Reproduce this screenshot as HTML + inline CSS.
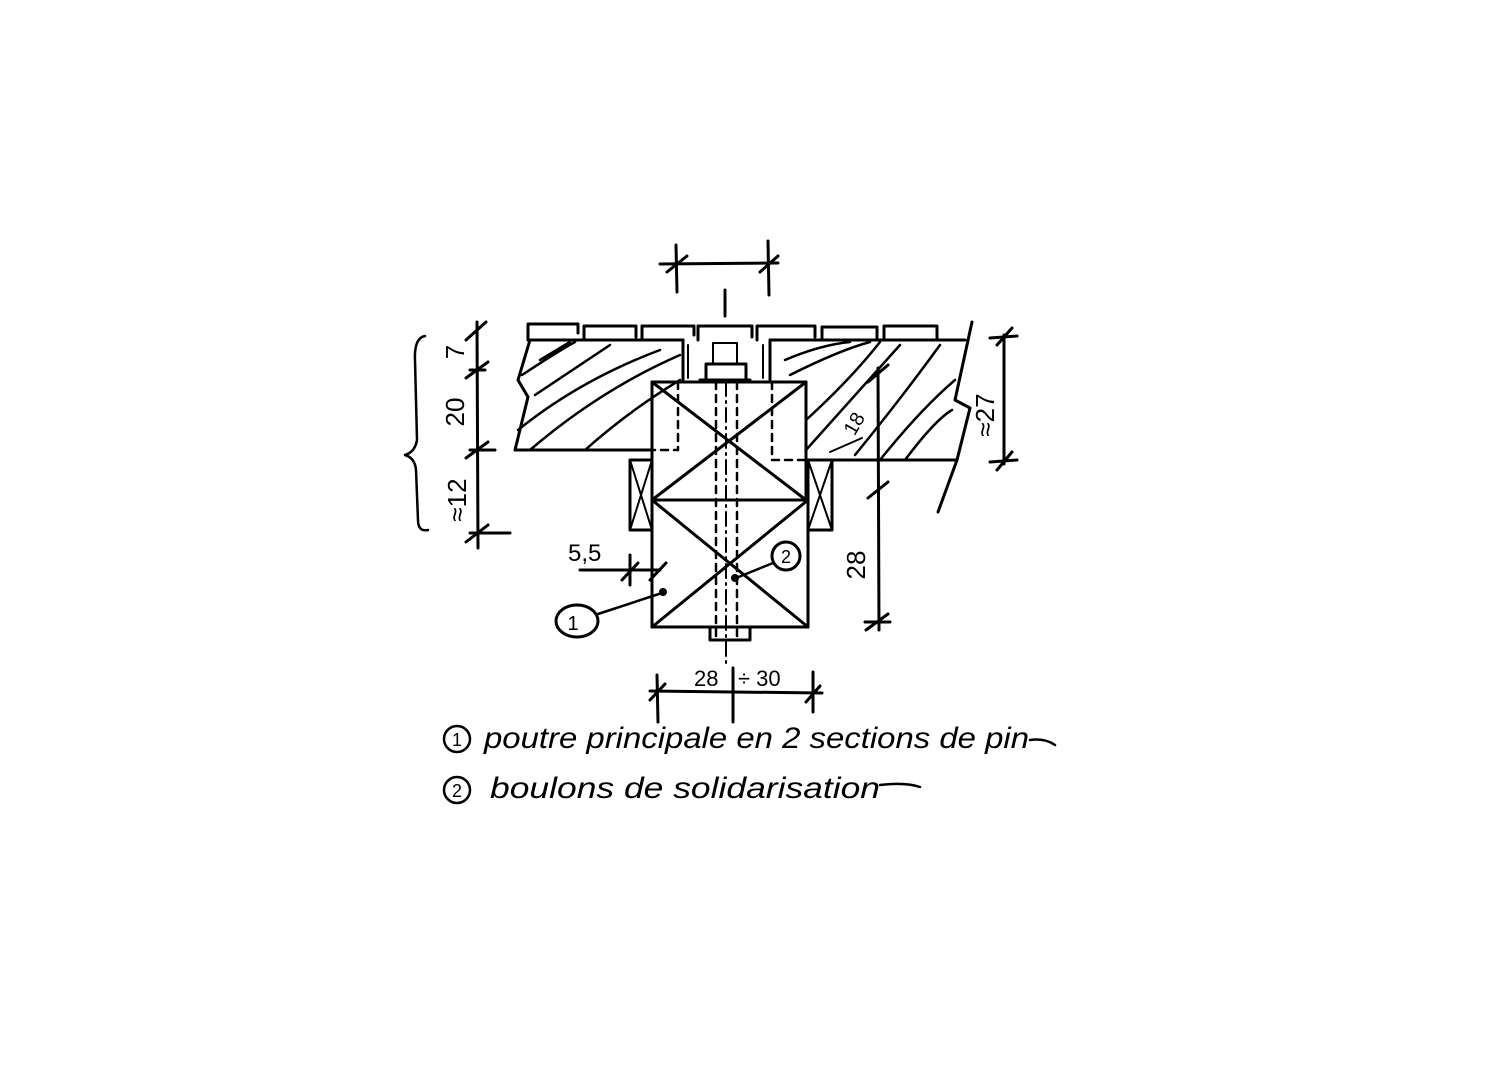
<!DOCTYPE html>
<html><head><meta charset="utf-8"><style>
html,body{margin:0;padding:0;background:#fff;}
svg{display:block}
text{font-family:"Liberation Sans",sans-serif;fill:#000}
</style></head><body>
<svg width="1500" height="1067" viewBox="0 0 1500 1067" xmlns="http://www.w3.org/2000/svg">
<g stroke="#000" stroke-width="3" fill="none" stroke-linecap="round" stroke-linejoin="round">
<!-- top dimension -->
<line x1="660" y1="264" x2="778" y2="263"/>
<line x1="676" y1="245" x2="677" y2="292"/>
<line x1="768" y1="241" x2="769" y2="295"/>
<line x1="667" y1="272" x2="687" y2="256"/>
<line x1="760" y1="272" x2="778" y2="256"/>
<line x1="725" y1="290" x2="725" y2="316"/>
<!-- planks -->
<path d="M528 340 V324 H578 V333 M584 340 V326 H636 V337 M642 340 V326 H694 V335 M698 340 V326 H752 V337 M757 340 V326 H815 V337 M822 340 V327 H877 V338 M884 340 V326 H937 V338"/>
<!-- deck slab -->
<path d="M528 340 H683 M770 340 H965"/>
<path d="M530 340 L518 380 L528 397 L515 450 H652"/>
<path d="M806 460 H836 M832 460 H957"/>
<path d="M972 322 L955 400 L970 408 L957 460 L938 512"/>
<line x1="683" y1="340" x2="683" y2="380"/>
<line x1="770" y1="340" x2="770" y2="380"/>
<line x1="688" y1="345" x2="688" y2="378" stroke-width="2"/>
<line x1="763" y1="345" x2="763" y2="378" stroke-width="2"/>
<!-- hatching left -->
<path d="M522 375 Q560 350 575 342 M535 395 Q580 365 610 345 M518 430 Q580 380 660 350 M530 450 Q600 390 680 355 M585 450 Q630 410 680 380 M540 360 Q560 348 570 342" stroke-width="2.5"/>
<!-- hatching right -->
<path d="M806 420 Q850 380 880 342 M806 450 Q860 390 900 345 M855 455 Q900 400 940 345 M880 460 Q920 410 955 380 M905 460 Q935 420 952 410 M785 360 Q820 345 850 342 M790 375 Q840 350 870 342" stroke-width="2.5"/>
<!-- nut and bolt -->
<rect x="706" y="364" width="40" height="16"/>
<rect x="713" y="343" width="24" height="21" stroke-width="2"/>
<line x1="700" y1="380" x2="750" y2="380"/>
<!-- upper beam -->
<rect x="652" y="382" width="154" height="118"/>
<line x1="652" y1="382" x2="806" y2="500"/>
<line x1="806" y1="382" x2="652" y2="500"/>
<!-- lower beam -->
<rect x="652" y="500" width="156" height="127"/>
<line x1="652" y1="500" x2="808" y2="627"/>
<line x1="808" y1="500" x2="652" y2="627"/>
<!-- side blocks -->
<rect x="630" y="460" width="22" height="70"/>
<line x1="630" y1="460" x2="652" y2="530" stroke-width="2"/>
<line x1="652" y1="460" x2="630" y2="530" stroke-width="2"/>
<rect x="808" y="460" width="24" height="70"/>
<line x1="808" y1="460" x2="832" y2="530" stroke-width="2"/>
<line x1="832" y1="460" x2="808" y2="530" stroke-width="2"/>
<!-- dashed bolt lines -->
<g stroke-dasharray="7 6" stroke-width="2.5">
<path d="M678 382 V450 H652"/>
<path d="M772 382 V460 H806"/>
<line x1="716" y1="382" x2="716" y2="640"/>
<line x1="737" y1="382" x2="737" y2="640"/>
</g>
<line x1="726" y1="382" x2="726" y2="665" stroke-dasharray="14 5 2 5" stroke-width="2"/>
<!-- bottom plate -->
<path d="M710 627 V640 H750 V627"/>
<!-- left dimension -->
<line x1="477" y1="322" x2="478" y2="548"/>
<line x1="466" y1="340" x2="486" y2="322"/>
<line x1="466" y1="378" x2="488" y2="362"/>
<line x1="466" y1="458" x2="488" y2="442"/>
<line x1="466" y1="542" x2="488" y2="525"/>
<line x1="470" y1="370" x2="485" y2="370"/>
<line x1="470" y1="450" x2="495" y2="450"/>
<line x1="470" y1="533" x2="510" y2="533"/>
<path d="M425 336 Q414 338 415 360 L417 440 Q415 452 405 455 Q415 458 416 470 L418 520 Q418 532 428 530" stroke-width="2.5"/>
<!-- right dimension 27 -->
<line x1="1004" y1="335" x2="1004" y2="464"/>
<line x1="990" y1="338" x2="1017" y2="336"/>
<line x1="990" y1="462" x2="1017" y2="460"/>
<line x1="997" y1="345" x2="1012" y2="328"/>
<line x1="997" y1="470" x2="1012" y2="452"/>
<!-- dim 28 right -->
<line x1="878" y1="368" x2="879" y2="630"/>
<line x1="868" y1="382" x2="888" y2="365"/>
<line x1="868" y1="498" x2="888" y2="482"/>
<line x1="866" y1="630" x2="888" y2="614"/>
<line x1="865" y1="622" x2="890" y2="622"/>
<line x1="830" y1="452" x2="862" y2="438" stroke-width="2"/>
<!-- 5,5 dim -->
<line x1="580" y1="570" x2="660" y2="570"/>
<line x1="630" y1="555" x2="630" y2="585"/>
<line x1="622" y1="580" x2="638" y2="563"/>
<line x1="650" y1="580" x2="666" y2="563"/>
<!-- bubble 1 -->
<ellipse cx="577" cy="621" rx="21" ry="16"/>
<line x1="598" y1="614" x2="662" y2="593" stroke-width="2.5"/>
<circle cx="663" cy="592" r="2.5" fill="#000"/>
<!-- bubble 2 -->
<circle cx="786" cy="556" r="14"/>
<line x1="773" y1="563" x2="736" y2="578" stroke-width="2.5"/>
<circle cx="735" cy="578" r="2.5" fill="#000"/>
<!-- bottom dimension -->
<line x1="650" y1="691" x2="822" y2="693"/>
<line x1="657" y1="675" x2="658" y2="722"/>
<line x1="813" y1="672" x2="813" y2="712"/>
<line x1="650" y1="700" x2="665" y2="684"/>
<line x1="806" y1="702" x2="820" y2="686"/>
<line x1="733" y1="668" x2="733" y2="722"/>
<!-- legend circles -->
<circle cx="457" cy="739" r="13" stroke-width="2.5"/>
<circle cx="457" cy="790" r="13" stroke-width="2.5"/>
<path d="M1030 740 Q1045 738 1055 745" stroke-width="2.5"/>
<path d="M880 785 Q905 782 920 787" stroke-width="2.5"/>
</g>
<g font-size="26">
<text x="0" y="0" transform="translate(464,352) rotate(-90)" text-anchor="middle">7</text>
<text x="0" y="0" transform="translate(464,412) rotate(-90)" text-anchor="middle">20</text>
<text x="0" y="0" transform="translate(466,500) rotate(-90)" text-anchor="middle">≈12</text>
<text x="0" y="0" transform="translate(994,415) rotate(-90)" text-anchor="middle">≈27</text>
<text x="0" y="0" transform="translate(865,565) rotate(-90)" text-anchor="middle">28</text>
<text x="0" y="0" transform="translate(860,427) rotate(-60)" text-anchor="middle" font-size="20">18</text>
<text x="568" y="561" font-size="24">5,5</text>
<text x="694" y="686" font-size="22">28</text>
<text x="738" y="686" font-size="22">÷ 30</text>
<text x="573" y="630" font-size="20" text-anchor="middle">1</text>
<text x="786" y="563" font-size="18" text-anchor="middle">2</text>
<text x="457" y="746" font-size="18" text-anchor="middle">1</text>
<text x="457" y="797" font-size="18" text-anchor="middle">2</text>
<text x="484" y="748" font-size="30" font-style="italic" textLength="545" lengthAdjust="spacingAndGlyphs">poutre principale en 2 sections de pin</text>
<text x="490" y="798" font-size="30" font-style="italic" textLength="390" lengthAdjust="spacingAndGlyphs">boulons de solidarisation</text>
</g>
</svg>
</body></html>
